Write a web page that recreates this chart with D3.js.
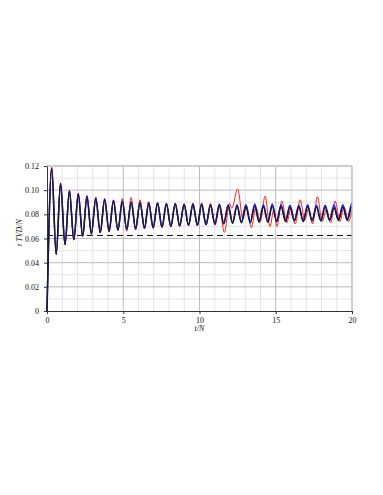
<!DOCTYPE html>
<html>
<head>
<meta charset="utf-8">
<script src="https://cdn.jsdelivr.net/npm/d3@7"></script>
<style>
  html, body { margin: 0; padding: 0; background: #fff; }
  svg { display: block; }
</style>
</head>
<body>
<svg id="chart" width="383" height="495"></svg>
<script>
// ---- data (extrema) ----
const xTicks = [0, 5, 10, 15, 20];
const yTicks = [0, 0.02, 0.04, 0.06, 0.08, 0.1, 0.12];
const yTickLabels = ["0", "0.02", "0.04", "0.06", "0.08", "0.10", "0.12"];
const dashedLevel = 0.0625;

const tBase = [0, 0.31, 0.60, 0.89, 1.18, 1.47, 1.76, 2.05, 2.34, 2.62, 2.91, 3.20, 3.49, 3.78, 4.07,
  4.36, 4.65, 4.94, 5.23, 5.52, 5.81, 6.10, 6.39, 6.67, 6.96, 7.25, 7.54, 7.83, 8.12, 8.41, 8.70,
  8.99, 9.28, 9.57, 9.86, 10.14, 10.43, 10.72, 11.01, 11.30, 11.59, 11.88, 12.17, 12.46, 12.75,
  13.04, 13.33, 13.62, 13.91, 14.19, 14.48, 14.77, 15.06, 15.35, 15.64, 15.93, 16.22, 16.51, 16.80,
  17.09, 17.38, 17.67, 17.96, 18.24, 18.53, 18.82, 19.11, 19.40, 19.69, 19.98, 20.0];

const blackV = [0, 0.118, 0.047, 0.105, 0.055, 0.099, 0.059, 0.0965, 0.062, 0.0945, 0.064, 0.093, 0.065, 0.092, 0.066,
  0.091, 0.067, 0.0905, 0.0675, 0.090, 0.068, 0.0895, 0.0685, 0.089, 0.069, 0.089, 0.0695, 0.0885, 0.070, 0.0885, 0.0705,
  0.088, 0.071, 0.088, 0.071, 0.088, 0.0715, 0.0875, 0.072, 0.0875, 0.072, 0.087, 0.0725, 0.087, 0.073,
  0.0865, 0.073, 0.087, 0.0735, 0.0865, 0.0735, 0.087, 0.074, 0.0865, 0.074, 0.086, 0.0745, 0.086, 0.074,
  0.0865, 0.0745, 0.086, 0.0745, 0.086, 0.075, 0.0855, 0.075, 0.086, 0.075, 0.086, 0.086];

const blueV = [0, 0.1185, 0.047, 0.1055, 0.055, 0.0995, 0.059, 0.097, 0.062, 0.095, 0.064, 0.0935, 0.065, 0.0925, 0.066,
  0.0915, 0.067, 0.091, 0.0675, 0.0905, 0.068, 0.090, 0.0685, 0.0895, 0.069, 0.0895, 0.0695, 0.089, 0.070, 0.089, 0.0705,
  0.0885, 0.071, 0.0885, 0.071, 0.0885, 0.0715, 0.088, 0.072, 0.0885, 0.0725, 0.088, 0.073, 0.088, 0.0735,
  0.088, 0.0735, 0.0885, 0.074, 0.088, 0.074, 0.0885, 0.0745, 0.088, 0.0745, 0.0875, 0.075, 0.0875, 0.0745,
  0.088, 0.075, 0.0875, 0.075, 0.0875, 0.0755, 0.088, 0.0755, 0.088, 0.0755, 0.089, 0.089];

const redT = [0, 0.31, 0.60, 0.89, 1.18, 1.47, 1.76, 2.05, 2.34, 2.62, 2.91, 3.20, 3.49, 3.78, 4.07,
  4.36, 4.65, 4.94, 5.23, 5.52, 5.81, 6.10, 6.39, 6.67, 6.96, 7.25, 7.54, 7.83, 8.12, 8.41, 8.70,
  8.99, 9.28, 9.57, 9.86, 10.14, 10.43, 10.72, 11.02, 11.30, 11.63, 11.97, 12.12, 12.50, 12.85,
  13.08, 13.40, 13.70, 13.98, 14.30, 14.62, 14.88, 15.08, 15.40, 15.72, 16.00, 16.28, 16.60, 16.90,
  17.15, 17.42, 17.73, 18.05, 18.32, 18.60, 18.90, 19.20, 19.48, 19.78, 20.0];

const redV = [0, 0.1188, 0.047, 0.106, 0.055, 0.1, 0.059, 0.0975, 0.062, 0.0955, 0.0635, 0.094, 0.0645, 0.093, 0.0655,
  0.092, 0.0665, 0.093, 0.066, 0.094, 0.067, 0.092, 0.068, 0.0905, 0.0685, 0.0895, 0.069, 0.089, 0.0695, 0.089, 0.070,
  0.0885, 0.0705, 0.0895, 0.0705, 0.0895, 0.071, 0.089, 0.071, 0.086, 0.065, 0.089, 0.085, 0.101, 0.076,
  0.087, 0.069, 0.086, 0.074, 0.095, 0.070, 0.084, 0.070, 0.091, 0.073, 0.085, 0.072, 0.092, 0.075,
  0.085, 0.072, 0.0945, 0.074, 0.084, 0.073, 0.091, 0.074, 0.086, 0.074, 0.084];

// ---- layout ----
const svg = d3.select("#chart");
const m = { left: 47, right: 352, top: 166, bottom: 311 };
const x = d3.scaleLinear().domain([0, 20]).range([m.left, m.right]);
const y = d3.scaleLinear().domain([0, 0.12]).range([m.bottom, m.top]);
const font = "'Liberation Serif', 'Times New Roman', serif";
const fs = 8;

// grid
const g = svg.append("g");
g.selectAll(".vmin").data(d3.range(0, 21, 1).filter(v => v % 5 !== 0)).join("line")
  .attr("x1", d => x(d)).attr("x2", d => x(d)).attr("y1", m.top).attr("y2", m.bottom)
  .attr("stroke", "#e4e4e4").attr("stroke-width", 1);
g.selectAll(".hmin").data([0.01, 0.03, 0.05, 0.07, 0.09, 0.11]).join("line")
  .attr("x1", m.left).attr("x2", m.right).attr("y1", d => y(d)).attr("y2", d => y(d))
  .attr("stroke", "#e4e4e4").attr("stroke-width", 1);
g.selectAll(".vmaj").data(xTicks.slice(1)).join("line")
  .attr("x1", d => x(d)).attr("x2", d => x(d)).attr("y1", m.top).attr("y2", m.bottom)
  .attr("stroke", "#bdbdbd").attr("stroke-width", 1);
g.selectAll(".hmaj").data(yTicks.slice(1)).join("line")
  .attr("x1", m.left).attr("x2", m.right).attr("y1", d => y(d)).attr("y2", d => y(d))
  .attr("stroke", "#bdbdbd").attr("stroke-width", 1);

// axes
const xAxis = d3.axisBottom(x).tickValues(xTicks).tickFormat(d3.format("d")).tickSize(3).tickPadding(3);
const yAxis = d3.axisLeft(y).tickValues(yTicks).tickFormat((d, i) => yTickLabels[i]).tickSize(3).tickPadding(5);
const gx = svg.append("g").attr("transform", `translate(0,${m.bottom})`).call(xAxis);
const gy = svg.append("g").attr("transform", `translate(${m.left},0)`).call(yAxis);
[gx, gy].forEach(a => {
  a.select(".domain").attr("stroke", "#333");
  a.selectAll(".tick line").attr("stroke", "#333");
  a.selectAll(".tick text").attr("font-family", font).attr("font-size", fs).attr("fill", "#111");
});

// dashed reference level
svg.append("line")
  .attr("x1", x(0)).attr("x2", x(20)).attr("y1", y(dashedLevel)).attr("y2", y(dashedLevel))
  .attr("stroke", "#111").attr("stroke-width", 1).attr("stroke-dasharray", "6,4");

// series
const line = d3.line().x(d => x(d[0])).y(d => y(d[1])).curve(d3.curveMonotoneX);
const zip = (ts, vs) => ts.map((t, i) => [t, vs[i]]);
svg.append("path").datum(zip(redT, redV)).attr("d", line)
  .attr("fill", "none").attr("stroke", "#ff2020").attr("stroke-width", 1);
svg.append("path").datum(zip(tBase, blueV)).attr("d", line)
  .attr("fill", "none").attr("stroke", "#1c1cf0").attr("stroke-width", 1.5);
svg.append("path").datum(zip(tBase, blackV)).attr("d", line)
  .attr("fill", "none").attr("stroke", "#1a1a33").attr("stroke-width", 1.5);

// frame (top/right)
svg.append("line").attr("x1", m.left).attr("x2", m.right).attr("y1", m.top).attr("y2", m.top)
  .attr("stroke", "#bdbdbd");
svg.append("line").attr("x1", m.right).attr("x2", m.right).attr("y1", m.top).attr("y2", m.bottom)
  .attr("stroke", "#bdbdbd");

// titles
svg.append("text").attr("x", (m.left + m.right) / 2).attr("y", 331)
  .attr("text-anchor", "middle").attr("font-family", font).attr("font-size", fs)
  .attr("font-style", "italic").attr("fill", "#111").text("t/N");
svg.append("text").attr("transform", `translate(22,${(m.top + m.bottom) / 2 - 6}) rotate(-90)`)
  .attr("text-anchor", "middle").attr("font-family", font).attr("font-size", fs)
  .attr("font-style", "italic").attr("fill", "#111").text("t TVD/N");
</script>
</body>
</html>
